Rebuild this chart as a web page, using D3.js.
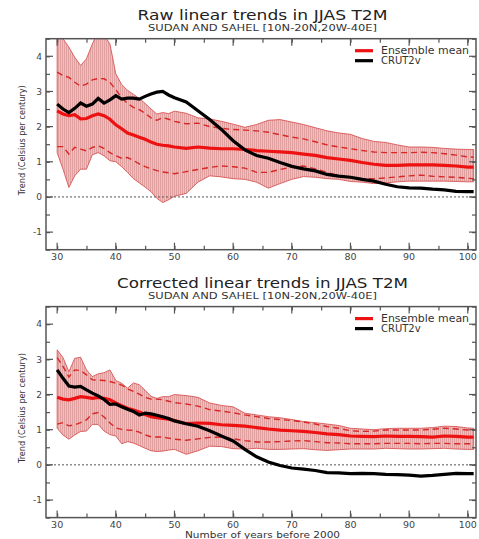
<!DOCTYPE html>
<html>
<head>
<meta charset="utf-8">
<script src="https://cdn.jsdelivr.net/npm/d3@7"></script>
<style>
  body { margin: 0; background: #fff; }
  text { font-family: "DejaVu Sans", "Liberation Sans", Arial, sans-serif; }
</style>
</head>
<body>
<div id="chart"></div>
<script>
// years before 2000 (x values)
var years = [30,31,32,33,34,35,36,37,38,39,40,41,42,43,44,45,46,47,48,49,50,
  52,54,56,58,60,62,64,66,68,70,72,74,76,78,80,82,84,86,88,90,92,94,96,98,100,101];

// ---- raw trends (top panel)
var rawCru = [2.64,2.5,2.4,2.52,2.67,2.58,2.64,2.8,2.67,2.76,2.88,2.78,2.81,2.81,2.78,2.86,2.93,2.98,3.0,2.9,2.82,
  2.7,2.45,2.2,1.92,1.6,1.34,1.18,1.1,0.98,0.87,0.8,0.74,0.64,0.59,0.56,0.5,0.45,0.36,0.29,0.26,0.25,0.22,0.2,0.16,0.15,0.15];
var rawMean = [2.45,2.36,2.31,2.34,2.22,2.23,2.31,2.36,2.31,2.21,2.05,1.94,1.82,1.76,1.7,1.64,1.56,1.5,1.47,1.45,1.42,
  1.38,1.42,1.39,1.37,1.37,1.35,1.32,1.3,1.28,1.26,1.22,1.18,1.12,1.08,1.04,0.98,0.93,0.9,0.9,0.91,0.91,0.91,0.9,0.88,0.85,0.85];
var rawHi = [3.55,3.45,3.4,3.26,3.15,3.21,3.33,3.37,3.36,3.26,3.05,2.82,2.66,2.55,2.48,2.38,2.25,2.18,2.26,2.21,2.15,
  2.08,2.1,2.0,1.95,1.92,1.9,1.88,1.84,1.77,1.7,1.65,1.57,1.48,1.42,1.37,1.32,1.28,1.26,1.26,1.26,1.27,1.26,1.23,1.19,1.14,1.13];
var rawLo = [1.43,1.43,1.22,1.41,1.36,1.31,1.41,1.45,1.38,1.26,1.17,1.1,1.12,1.04,0.94,0.86,0.8,0.75,0.71,0.69,0.66,
  0.72,0.78,0.84,0.88,0.86,0.82,0.7,0.7,0.78,0.85,0.88,0.8,0.7,0.6,0.55,0.52,0.52,0.54,0.57,0.6,0.62,0.59,0.57,0.56,0.53,0.52];
var rawMax = [4.75,4.5,4.26,3.97,3.74,3.93,4.35,4.7,4.6,4.35,3.5,3.2,3.03,2.92,2.8,2.66,2.5,2.36,2.4,2.37,2.44,
  2.38,2.25,2.22,2.15,2.07,1.98,2.06,2.18,2.2,2.13,2.06,1.97,1.88,1.82,1.78,1.66,1.58,1.55,1.48,1.42,1.42,1.41,1.38,1.36,1.35,1.35];
var rawMin = [1.26,0.79,0.27,0.6,0.79,0.79,1.2,1.26,1.17,1.03,1.0,0.86,0.7,0.52,0.4,0.28,0.15,-0.04,-0.16,-0.08,0.02,
  0.1,0.42,0.6,0.57,0.52,0.5,0.42,0.25,0.38,0.5,0.58,0.56,0.52,0.5,0.44,0.42,0.38,0.4,0.43,0.45,0.45,0.45,0.45,0.44,0.43,0.43];

// ---- corrected trends (bottom panel)
var corCru = [2.7,2.46,2.24,2.21,2.23,2.13,2.04,1.96,1.86,1.72,1.73,1.65,1.58,1.52,1.42,1.47,1.45,1.41,1.37,1.32,1.25,
  1.17,1.1,0.97,0.82,0.68,0.44,0.23,0.08,-0.02,-0.09,-0.12,-0.16,-0.22,-0.23,-0.25,-0.24,-0.25,-0.27,-0.28,-0.29,-0.32,-0.3,-0.27,-0.24,-0.25,-0.25];
var corMean = [1.92,1.87,1.85,1.89,1.94,1.92,1.89,1.92,1.89,1.85,1.76,1.68,1.61,1.56,1.5,1.43,1.37,1.34,1.32,1.3,1.26,
  1.17,1.19,1.18,1.14,1.12,1.1,1.06,1.02,0.99,0.97,0.95,0.92,0.88,0.86,0.82,0.81,0.8,0.82,0.81,0.81,0.8,0.79,0.82,0.81,0.79,0.79];
var corHi = [3.05,2.8,2.5,2.7,2.68,2.56,2.42,2.41,2.4,2.37,2.32,2.27,2.16,2.09,2.01,1.92,1.87,1.87,1.85,1.81,1.77,
  1.73,1.67,1.57,1.53,1.48,1.42,1.37,1.32,1.29,1.26,1.22,1.16,1.09,1.04,0.97,0.95,0.96,0.99,0.99,0.99,0.99,1.01,1.04,1.02,0.99,0.99];
var corLo = [1.16,1.2,1.11,1.14,1.2,1.28,1.45,1.49,1.36,1.19,1.05,1.01,0.99,0.98,0.93,0.85,0.8,0.79,0.79,0.76,0.73,
  0.7,0.74,0.78,0.79,0.74,0.69,0.65,0.65,0.66,0.68,0.69,0.66,0.63,0.62,0.6,0.6,0.6,0.61,0.61,0.61,0.6,0.61,0.61,0.6,0.6,0.6];
var corMax = [3.27,3.05,2.65,3.03,3.06,2.7,2.51,2.59,2.62,2.7,2.4,2.32,2.18,2.33,2.28,2.12,1.95,1.89,1.94,1.94,2.0,
  1.97,1.92,1.76,1.69,1.65,1.47,1.42,1.37,1.34,1.29,1.23,1.2,1.16,1.12,1.04,1.02,1.0,1.03,1.04,1.04,1.04,1.06,1.1,1.09,1.05,1.04];
var corMin = [1.04,0.85,0.73,0.85,0.95,0.96,1.15,1.15,0.96,0.86,0.82,0.6,0.66,0.62,0.55,0.47,0.4,0.38,0.39,0.42,0.44,
  0.3,0.4,0.53,0.52,0.46,0.45,0.47,0.44,0.44,0.45,0.46,0.43,0.41,0.43,0.45,0.45,0.45,0.47,0.46,0.45,0.45,0.46,0.47,0.45,0.44,0.44];

var xTicks = [30,40,50,60,70,80,90,100];
var yTicks = [-1,0,1,2,3,4];

var W = 479, H = 539;
var svg = d3.select("#chart").append("svg").attr("width", W).attr("height", H);

// fine vertical hatch for the spread band
var defs = svg.append("defs");
var pat = defs.append("pattern").attr("id", "hatch")
    .attr("patternUnits", "userSpaceOnUse").attr("width", 2).attr("height", 4);
pat.append("rect").attr("width", 2).attr("height", 4).attr("fill", "#eec0c0");
pat.append("line").attr("x1", 0.5).attr("x2", 0.5).attr("y1", 0).attr("y2", 4)
    .attr("stroke", "#dc9898").attr("stroke-width", 0.8);

var x = d3.scaleLinear().domain([28.1, 101.4]).range([46, 476]);

function panel(id, top, title, titleW, cru, mean, hi, lo, mx, mn) {
  var bottom = top + 211;
  var y = d3.scaleLinear().domain([-1.5, 4.5]).range([bottom, top]);
  var g = svg.append("g");

  defs.append("clipPath").attr("id", "clip" + id)
    .append("rect").attr("x", 46).attr("y", top).attr("width", 430).attr("height", bottom - top);

  // titles
  g.append("text").attr("x", 262.5).attr("y", top - 19).attr("text-anchor", "middle")
    .attr("font-size", 13.5).attr("fill", "#222")
    .attr("textLength", titleW).attr("lengthAdjust", "spacingAndGlyphs").text(title);
  g.append("text").attr("x", 262.5).attr("y", top - 8).attr("text-anchor", "middle")
    .attr("font-size", 9).attr("fill", "#333")
    .attr("textLength", 229).attr("lengthAdjust", "spacingAndGlyphs")
    .text("SUDAN AND SAHEL [10N-20N,20W-40E]");

  var pts = years.map(function(d, i) { return i; });
  var plot = g.append("g").attr("clip-path", "url(#clip" + id + ")");

  var area = d3.area().x(function(i) { return x(years[i]); })
      .y0(function(i) { return y(mn[i]); }).y1(function(i) { return y(mx[i]); });
  plot.append("path").datum(pts).attr("d", area).attr("fill", "url(#hatch)")
    .attr("stroke", "#d64545").attr("stroke-width", 0.8);

  function line(arr) {
    return d3.line().x(function(i) { return x(years[i]); }).y(function(i) { return y(arr[i]); })(pts);
  }

  // zero line
  plot.append("line").attr("x1", 46).attr("x2", 476).attr("y1", y(0)).attr("y2", y(0))
    .attr("stroke", "#555").attr("stroke-width", 1).attr("stroke-dasharray", "2,2");

  plot.append("path").attr("d", line(hi)).attr("fill", "none")
    .attr("stroke", "#d92626").attr("stroke-width", 1.4).attr("stroke-dasharray", "6,4");
  plot.append("path").attr("d", line(lo)).attr("fill", "none")
    .attr("stroke", "#d92626").attr("stroke-width", 1.4).attr("stroke-dasharray", "6,4");
  plot.append("path").attr("d", line(mean)).attr("fill", "none")
    .attr("stroke", "#ee1111").attr("stroke-width", 3.2);
  plot.append("path").attr("d", line(cru)).attr("fill", "none")
    .attr("stroke", "#000").attr("stroke-width", 3.2);

  // axes (ticks inside, on all four sides)
  var col = "#555";
  var axB = d3.axisBottom(x).tickValues(d3.range(30, 101, 5)).tickSize(-4).tickFormat("");
  var axT = d3.axisTop(x).tickValues(d3.range(30, 101, 5)).tickSize(-4).tickFormat("");
  var axL = d3.axisLeft(y).tickValues(d3.range(-1.5, 4.51, 0.5)).tickSize(-4).tickFormat("");
  var axR = d3.axisRight(y).tickValues(d3.range(-1.5, 4.51, 0.5)).tickSize(-4).tickFormat("");
  [[axB, "translate(0," + bottom + ")"], [axT, "translate(0," + top + ")"],
   [axL, "translate(46,0)"], [axR, "translate(476,0)"]].forEach(function(a) {
    var s = g.append("g").attr("transform", a[1]).call(a[0]);
    s.select(".domain").remove();
    s.selectAll("line").attr("stroke", col).attr("stroke-width", 1.2);
  });
  // longer major ticks
  xTicks.forEach(function(v) {
    g.append("line").attr("x1", x(v)).attr("x2", x(v)).attr("y1", bottom).attr("y2", bottom - 7).attr("stroke", col).attr("stroke-width", 1.2);
    g.append("line").attr("x1", x(v)).attr("x2", x(v)).attr("y1", top).attr("y2", top + 7).attr("stroke", col).attr("stroke-width", 1.2);
  });
  yTicks.forEach(function(v) {
    g.append("line").attr("x1", 46).attr("x2", 53).attr("y1", y(v)).attr("y2", y(v)).attr("stroke", col).attr("stroke-width", 1.2);
    g.append("line").attr("x1", 476).attr("x2", 469).attr("y1", y(v)).attr("y2", y(v)).attr("stroke", col).attr("stroke-width", 1.2);
  });
  g.append("rect").attr("x", 46).attr("y", top).attr("width", 430).attr("height", bottom - top)
    .attr("fill", "none").attr("stroke", col).attr("stroke-width", 1.5);

  // tick labels
  g.selectAll(".xl").data(xTicks).enter().append("text")
    .attr("x", function(d) { return x(d); }).attr("y", bottom + 10)
    .attr("text-anchor", "middle").attr("font-size", 9.5).attr("fill", "#444").text(function(d) { return d; });
  g.selectAll(".yl").data(yTicks).enter().append("text")
    .attr("x", 42).attr("y", function(d) { return y(d) + 3.3; })
    .attr("text-anchor", "end").attr("font-size", 9).attr("fill", "#444").text(function(d) { return d; });

  g.append("text").attr("transform", "translate(25," + ((top + bottom) / 2 - 4) + ") rotate(-90)")
    .attr("text-anchor", "middle").attr("font-size", 9.5).attr("fill", "#333")
    .attr("textLength", 110).attr("lengthAdjust", "spacingAndGlyphs")
    .text("Trend (Celsius per century)");

  // legend
  var lg = g.append("g");
  lg.append("line").attr("x1", 355).attr("x2", 373).attr("y1", top + 12).attr("y2", top + 12)
    .attr("stroke", "#ee1111").attr("stroke-width", 3.2);
  lg.append("text").attr("x", 381).attr("y", top + 15.5).attr("font-size", 10).attr("fill", "#333")
    .attr("textLength", 88).attr("lengthAdjust", "spacingAndGlyphs").text("Ensemble mean");
  lg.append("line").attr("x1", 355).attr("x2", 373).attr("y1", top + 22).attr("y2", top + 22)
    .attr("stroke", "#000").attr("stroke-width", 3.2);
  lg.append("text").attr("x", 381).attr("y", top + 25.5).attr("font-size", 10).attr("fill", "#333").text("CRUT2v");
}

panel("a", 38.7, "Raw linear trends in JJAS T2M", 250, rawCru, rawMean, rawHi, rawLo, rawMax, rawMin);
panel("b", 306.6, "Corrected linear trends in JJAS T2M", 291, corCru, corMean, corHi, corLo, corMax, corMin);

svg.append("text").attr("x", 262.5).attr("y", 537.5).attr("text-anchor", "middle")
  .attr("font-size", 9.5).attr("fill", "#333")
  .attr("textLength", 155).attr("lengthAdjust", "spacingAndGlyphs")
  .text("Number of years before 2000");
</script>
</body>
</html>
